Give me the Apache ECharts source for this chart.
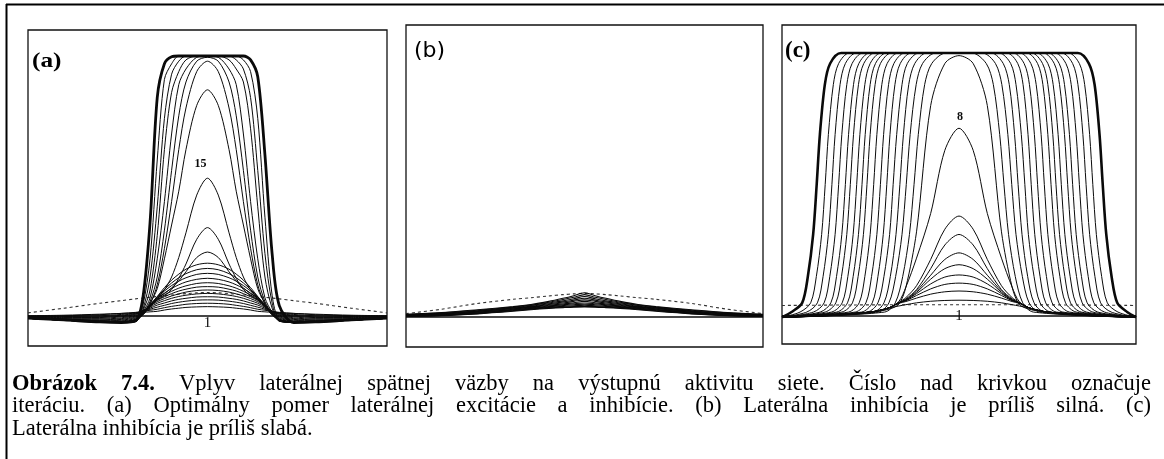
<!DOCTYPE html>
<html>
<head>
<meta charset="utf-8">
<script src="https://cdn.jsdelivr.net/npm/echarts@6/dist/echarts.min.js"></script>
<style>
html, body { margin: 0; padding: 0; background: #fff; }
#chart { width: 1164px; height: 459px; }
</style>
</head>
<body>
<div id="chart"></div>
<script>
// ---------------------------------------------------------------
// Data: network output activity per neuron position (-50..50),
// one row per iteration. Activity 100 = saturation.
// ---------------------------------------------------------------

// (a) optimal ratio of lateral excitation and inhibition
const xA = [-50,-40,-30,-24,-20,-18,-16,-14,-12,-10,-8,-6,-3,0,3,6,8,10,12,14,16,18,20,24,30,40,50];
const inputA = [1.2,3.0,4.9,5.9,6.6,6.9,7.2,7.5,7.8,8.1,8.4,8.6,8.9,9.0,8.9,8.6,8.4,8.1,7.8,7.5,7.2,6.9,6.6,5.9,4.9,3.0,1.2];
const curvesA = [
  [0.1,0.3,0.7,1.0,1.2,1.4,1.6,1.8,2.3,2.7,3.0,3.3,3.5,3.6,3.5,3.3,3.0,2.7,2.3,1.8,1.6,1.4,1.2,1.0,0.7,0.3,0.1],
  [0,0.1,0.5,1.0,1.4,1.8,2.2,2.6,3.2,3.7,4.1,4.5,4.8,4.9,4.8,4.5,4.1,3.7,3.2,2.6,2.2,1.8,1.4,1.0,0.5,0.1,0],
  [-0.2,-0.2,0.1,0.6,1.2,1.8,2.6,3.4,4.1,4.8,5.3,5.7,6.1,6.2,6.1,5.7,5.3,4.8,4.1,3.4,2.6,1.8,1.2,0.6,0.1,-0.2,-0.2],
  [-0.3,-0.4,-0.3,0.3,1.0,1.8,3.0,4.2,5.0,5.8,6.4,6.8,7.3,7.4,7.3,6.8,6.4,5.8,5.0,4.2,3.0,1.8,1.0,0.3,-0.3,-0.4,-0.3],
  [-0.4,-0.6,-0.6,0,0.8,1.8,3.4,4.9,5.9,6.8,7.5,8.0,8.5,8.7,8.5,8.0,7.5,6.8,5.9,4.9,3.4,1.8,0.8,0,-0.6,-0.6,-0.4],
  [-0.5,-0.8,-0.9,-0.3,0.6,1.8,3.8,5.5,6.7,7.7,8.5,9.2,9.8,10,9.8,9.2,8.5,7.7,6.7,5.5,3.8,1.8,0.6,-0.3,-0.9,-0.8,-0.5],
  [-0.6,-1.0,-1.2,-0.7,0.3,1.8,4.0,6.0,7.4,8.6,9.6,10.3,11.1,11.3,11.1,10.3,9.6,8.6,7.4,6.0,4.0,1.8,0.3,-0.7,-1.2,-1.0,-0.6],
  [-0.7,-1.2,-1.5,-1.0,0,1.6,4.2,6.4,8.1,9.5,10.7,11.6,12.5,12.8,12.5,11.6,10.7,9.5,8.1,6.4,4.2,1.6,0,-1.0,-1.5,-1.2,-0.7],
  [-0.8,-1.3,-1.7,-1.3,-0.3,1.4,4.3,6.8,8.8,10.6,12.0,13.1,14.1,14.5,14.1,13.1,12.0,10.6,8.8,6.8,4.3,1.4,-0.3,-1.3,-1.7,-1.3,-0.8],
  [-0.8,-1.4,-1.9,-1.6,-0.6,1.2,4.3,7.1,9.6,11.7,13.4,14.7,16.0,16.4,16.0,14.7,13.4,11.7,9.6,7.1,4.3,1.2,-0.6,-1.6,-1.9,-1.4,-0.8],
  [-0.9,-1.5,-2.1,-1.9,-0.9,1.0,4.3,7.3,10.2,12.7,14.7,16.3,17.8,18.3,17.8,16.3,14.7,12.7,10.2,7.3,4.3,1.0,-0.9,-1.9,-2.1,-1.5,-0.9],
  [-0.9,-1.6,-2.2,-2.1,-1.2,0.8,4.2,7.5,10.9,13.8,16.1,18.0,19.7,20.3,19.7,18.0,16.1,13.8,10.9,7.5,4.2,0.8,-1.2,-2.1,-2.2,-1.6,-0.9],
  [-0.9,-1.6,-2.3,-2.2,-1.4,0.6,4.0,6.8,8.6,10.8,13.5,17.0,22.5,24.6,22.5,17.0,13.5,10.8,8.6,6.8,4.0,0.6,-1.4,-2.2,-2.3,-1.6,-0.9],
  [-0.9,-1.6,-2.3,-2.3,-1.5,0.5,3.8,6.2,7.8,10.2,14.5,20.0,29.5,34,29.5,20.0,14.5,10.2,7.8,6.2,3.8,0.5,-1.5,-2.3,-2.3,-1.6,-0.9],
  [-0.9,-1.6,-2.3,-2.4,-1.6,0.4,3.5,6.5,10,15,22.5,32,46.5,53,46.5,32,22.5,15,10,6.5,3.5,0.4,-1.6,-2.4,-2.3,-1.6,-0.9],
  [-0.9,-1.6,-2.3,-2.4,-1.6,0.8,5,10.5,22,35,48,64,81,87,81,64,48,35,22,10.5,5,0.8,-1.6,-2.4,-2.3,-1.6,-0.9],
  [-0.9,-1.6,-2.3,-2.4,-1.7,1,4.5,12,26,44,64,80,94,98,94,80,64,44,26,12,4.5,1,-1.7,-2.4,-2.3,-1.6,-0.9],
  [-0.9,-1.6,-2.3,-2.4,-1.8,1.2,5.5,15,33,56,77,90,98,99.5,98,90,77,56,33,15,5.5,1.2,-1.8,-2.4,-2.3,-1.6,-0.9],
  [-0.9,-1.6,-2.3,-2.4,-1.9,1.5,7,22,44,70,89,95,99.5,100,99.5,95,89,70,44,22,7,1.5,-1.9,-2.4,-2.3,-1.6,-0.9],
  [-0.9,-1.6,-2.3,-2.4,-2.0,2,10,31,64,86,94,98.5,100,100,100,98.5,95,90,72,42,15,3,-2.0,-2.4,-2.3,-1.6,-0.9],
  [-0.9,-1.6,-2.3,-2.4,-2.1,2.5,15,42,76,93,98,100,100,100,100,100,98.5,95,84,56,24,5,-2.0,-2.4,-2.3,-1.6,-0.9],
  [-0.9,-1.6,-2.3,-2.5,-2.2,4,22,60,91,97,100,100,100,100,100,100,100,98.5,94,76,38,8,-1.5,-2.5,-2.3,-1.6,-0.9]
];
const finalA = [-0.8,-1.5,-2.3,-2.5,-1.8,7,36,84,97,99.7,100,100,100,100,100,100,100,100,98.5,92,62,24,4,-2.5,-2.3,-1.5,-0.8];

// (b) lateral inhibition too strong
const xB = [-50,-40,-30,-20,-15,-10,-6,-3,0,3,6,10,15,20,30,40,50];
const inputB = [1.3,3.0,5.2,6.8,7.4,8.1,8.6,8.9,9.1,8.9,8.6,8.1,7.4,6.8,5.2,3.0,1.3];
const curvesB = [
  [1.0,1.7,2.8,4.0,4.8,6.0,7.2,8.2,9.3,8.2,7.2,6.0,4.8,4.0,2.8,1.7,1.0],
  [0.9,1.6,2.6,3.8,4.6,5.7,6.7,7.6,8.6,7.6,6.7,5.7,4.6,3.8,2.6,1.6,0.9],
  [0.8,1.4,2.4,3.6,4.4,5.4,6.2,7.0,7.9,7.0,6.2,5.4,4.4,3.6,2.4,1.4,0.8],
  [0.7,1.3,2.2,3.4,4.1,5.1,5.8,6.5,7.2,6.5,5.8,5.1,4.1,3.4,2.2,1.3,0.7],
  [0.6,1.2,2.1,3.2,3.9,4.8,5.4,6.0,6.6,6.0,5.4,4.8,3.9,3.2,2.1,1.2,0.6],
  [0.5,1.1,1.9,3.0,3.7,4.5,5.0,5.5,6.0,5.5,5.0,4.5,3.7,3.0,1.9,1.1,0.5],
  [0.5,0.9,1.8,2.8,3.5,4.2,4.7,5.1,5.4,5.1,4.7,4.2,3.5,2.8,1.8,0.9,0.5],
  [0.4,0.8,1.6,2.7,3.3,4.0,4.4,4.7,4.9,4.7,4.4,4.0,3.3,2.7,1.6,0.8,0.4],
  [0.3,0.7,1.5,2.5,3.1,3.7,4.1,4.3,4.5,4.3,4.1,3.7,3.1,2.5,1.5,0.7,0.3],
  [0.3,0.6,1.3,2.4,3.0,3.5,3.8,4.0,4.1,4.0,3.8,3.5,3.0,2.4,1.3,0.6,0.3],
  [0.2,0.5,1.2,2.2,2.8,3.3,3.6,3.8,3.9,3.8,3.6,3.3,2.8,2.2,1.2,0.5,0.2]
];

// (c) lateral inhibition too weak
const xC = [-50,-35,-25,-20,-17,-15,-12,-8,-4,0,4,8,12,15,17,20,25,35,50];
const inputC = [[-50,4.0],[-30,4.2],[0,4.3],[30,4.2],[50,4.0]];
const curvesC = [
  [0,0.6,1.5,3,3.8,4.3,5,5.6,5.9,6,5.9,5.6,5,4.3,3.8,3,1.5,0.6,0],
  [0,0.6,1.5,3,4.8,5.5,6.8,8.3,9.2,9.5,9.2,8.3,6.8,5.5,4.8,3,1.5,0.6,0],
  [0,0.6,1.5,3,5,5.8,7.8,10.3,12,12.5,12,10.3,7.8,5.8,5,3,1.5,0.6,0],
  [0,0.6,1.5,3,5,6,8.5,12.2,14.8,15.6,14.8,12.2,8.5,6,5,3,1.5,0.6,0],
  [0,0.6,1.5,3,5,6,9,14,18,19.5,18,14,9,6,5,3,1.5,0.6,0],
  [0,0.6,1.5,3,5,6.2,9.5,15.5,21.5,24,21.5,15.5,9.5,6.2,5,3,1.5,0.6,0],
  [0,0.6,1.5,3,5,6.5,10,18,27,31,27,18,10,6.5,5,3,1.5,0.6,0],
  [-0.3,0.4,1.5,3,5.2,7,11.5,21.5,33,38,33,21.5,11.5,7,5.2,3,1.5,0.4,-0.3],
  [-0.5,0.3,1.5,3,5.5,11,22,39,63,71.4,63,39,22,11,5.5,3,1.5,0.3,-0.5],
  [-0.5,0.3,1.5,2.5,4.5,11,32,80,96,99,96,80,32,11,4.5,2.5,1.5,0.3,-0.5]
];
// widening plateau fronts, iterations after the peak saturates
const frontsC = [
  [[-50,-0.5],[-21,1.5],[-18,5],[-15.9,15],[-14,31],[-12.7,50],[-11.5,69],[-9.7,88],[-7.7,96],[-3.7,100],[3.7,100],[7.7,96],[9.7,88],[11.5,69],[12.7,50],[14,31],[15.9,15],[18,5],[21,1.5],[50,-0.5]],
  [[-50,-0.5],[-22.8,1.5],[-19.8,5],[-17.9,15],[-16.1,31],[-14.9,50],[-13.8,69],[-12.1,88],[-10.3,96],[-6.6,100],[6.6,100],[10.3,96],[12.1,88],[13.8,69],[14.9,50],[16.1,31],[17.9,15],[19.8,5],[22.8,1.5],[50,-0.5]],
  [[-50,-0.5],[-24.2,1.5],[-21.2,5],[-19.4,15],[-17.8,31],[-16.7,50],[-15.7,69],[-14.2,88],[-12.5,96],[-9.1,100],[9.1,100],[12.5,96],[14.2,88],[15.7,69],[16.7,50],[17.8,31],[19.4,15],[21.2,5],[24.2,1.5],[50,-0.5]],
  [[-50,-0.5],[-25.9,1.5],[-22.9,5],[-21.2,15],[-19.6,31],[-18.6,50],[-17.6,69],[-16.1,88],[-14.6,96],[-11.3,100],[11.3,100],[14.6,96],[16.1,88],[17.6,69],[18.6,50],[19.6,31],[21.2,15],[22.9,5],[25.9,1.5],[50,-0.5]],
  [[-50,-0.5],[-27.5,1.5],[-24.5,5],[-22.9,15],[-21.4,31],[-20.4,50],[-19.5,69],[-18.1,88],[-16.6,96],[-13.5,100],[13.5,100],[16.6,96],[18.1,88],[19.5,69],[20.4,50],[21.4,31],[22.9,15],[24.5,5],[27.5,1.5],[50,-0.5]],
  [[-50,-0.5],[-29.3,1.5],[-26.3,5],[-24.7,15],[-23.2,31],[-22.2,50],[-21.3,69],[-19.9,88],[-18.4,96],[-15.3,100],[15.3,100],[18.4,96],[19.9,88],[21.3,69],[22.2,50],[23.2,31],[24.7,15],[26.3,5],[29.3,1.5],[50,-0.5]],
  [[-50,-0.5],[-31.2,1.5],[-28.2,5],[-26.6,15],[-25.1,31],[-24.1,50],[-23.2,69],[-21.8,88],[-20.3,96],[-17.2,100],[17.2,100],[20.3,96],[21.8,88],[23.2,69],[24.1,50],[25.1,31],[26.6,15],[28.2,5],[31.2,1.5],[50,-0.5]],
  [[-50,-0.5],[-33.1,1.5],[-30.1,5],[-28.5,15],[-27,31],[-26,50],[-25.1,69],[-23.7,88],[-22.2,96],[-19.1,100],[19.1,100],[22.2,96],[23.7,88],[25.1,69],[26,50],[27,31],[28.5,15],[30.1,5],[33.1,1.5],[50,-0.5]],
  [[-50,-0.5],[-34.5,1.5],[-31.5,5],[-29.9,15],[-28.4,31],[-27.4,50],[-26.5,69],[-25.1,88],[-23.6,96],[-20.5,100],[20.5,100],[23.6,96],[25.1,88],[26.5,69],[27.4,50],[28.4,31],[29.9,15],[31.5,5],[34.5,1.5],[50,-0.5]],
  [[-50,-0.5],[-36,1.5],[-33,5],[-31.4,15],[-29.9,31],[-28.9,50],[-28,69],[-26.6,88],[-25.1,96],[-22,100],[22,100],[25.1,96],[26.6,88],[28,69],[28.9,50],[29.9,31],[31.4,15],[33,5],[36,1.5],[50,-0.5]],
  [[-50,-0.5],[-37.8,1.5],[-34.8,5],[-33.2,15],[-31.7,31],[-30.7,50],[-29.8,69],[-28.4,88],[-26.9,96],[-23.8,100],[23.8,100],[26.9,96],[28.4,88],[29.8,69],[30.7,50],[31.7,31],[33.2,15],[34.8,5],[37.8,1.5],[50,-0.5]],
  [[-50,-0.5],[-39.2,1.5],[-36.2,5],[-34.6,15],[-33.1,31],[-32.1,50],[-31.2,69],[-29.8,88],[-28.3,96],[-25.2,100],[25.2,100],[28.3,96],[29.8,88],[31.2,69],[32.1,50],[33.1,31],[34.6,15],[36.2,5],[39.2,1.5],[50,-0.5]],
  [[-50,-0.5],[-41.1,1.5],[-38.1,5],[-36.5,15],[-35,31],[-34,50],[-33.1,69],[-31.7,88],[-30.2,96],[-27.1,100],[27.1,100],[30.2,96],[31.7,88],[33.1,69],[34,50],[35,31],[36.5,15],[38.1,5],[41.1,1.5],[50,-0.5]],
  [[-50,-0.5],[-43,1.5],[-40,5],[-38.4,15],[-36.9,31],[-35.9,50],[-35,69],[-33.6,88],[-32.1,96],[-29,100],[29,100],[32.1,96],[33.6,88],[35,69],[35.9,50],[36.9,31],[38.4,15],[40,5],[43,1.5],[50,-0.5]],
  [[-50,-0.5],[-44.9,1.5],[-41.9,5],[-40.3,15],[-38.8,31],[-37.8,50],[-36.9,69],[-35.5,88],[-34,96],[-30.9,100],[30.9,100],[34,96],[35.5,88],[36.9,69],[37.8,50],[38.8,31],[40.3,15],[41.9,5],[44.9,1.5],[50,-0.5]]
];
const finalC = [[-50,-0.5],[-47.3,1.5],[-44.3,5],[-42.7,15],[-41.2,31],[-40.2,50],[-39.3,69],[-37.9,88],[-36.4,96],[-33.3,100],[33.6,100],[36.7,96],[38.3,88],[39.7,69],[40.6,50],[41.6,31],[43.1,15],[44.7,5],[47.5,1.5],[50,-0.5]];

// iteration numbers written next to curves: [panel, curve row, text]
const iterationTags = [
  ['a', 0, '1'], ['a', 14, '15'],
  ['c', 0, '1'], ['c', 8, '8']
];

const panelTitles = ['(a)', '(b)', '(c)'];

const captionLines = [
  'Obrázok 7.4. Vplyv laterálnej spätnej väzby na výstupnú aktivitu siete. Číslo nad krivkou označuje',
  'iteráciu. (a) Optimálny pomer laterálnej excitácie a inhibície. (b) Laterálna inhibícia je príliš silná. (c)',
  'Laterálna inhibícia je príliš slabá.'
];
const captionBoldWords = 2;

// ---------------------------------------------------------------
// Layout and drawing
// ---------------------------------------------------------------
const SERIF = "'Liberation Serif', 'Times New Roman', serif";
const INK = '#0a0a0a';

const grids = [
  { left: 28, top: 30, width: 359, height: 316 },
  { left: 406, top: 25, width: 357, height: 322 },
  { left: 782, top: 25, width: 354, height: 319 }
];
const yRange = [[-11.54, 110], [-11.54, 112.3], [-10.65, 110.65]];

const zip = (xs, ys) => xs.map((x, i) => [x, ys[i]]);

function curve(panel, points, width, extra) {
  return Object.assign({
    type: 'line',
    xAxisIndex: panel,
    yAxisIndex: panel,
    data: points,
    symbol: 'none',
    showSymbol: false,
    smooth: 0.3,
    silent: true,
    animation: false,
    lineStyle: { color: INK, width: width },
    emphasis: { disabled: true }
  }, extra || {});
}

function tagPoint(points, text, offset, bold, size) {
  const peak = points.reduce((m, p) => (p[1] > m[1] ? p : m), points[0]);
  return {
    symbol: 'circle',
    symbolSize: 0,
    silent: true,
    animation: false,
    data: [{ coord: peak }],
    label: {
      show: true,
      formatter: text,
      position: 'inside',
      offset: offset,
      color: INK,
      fontFamily: SERIF,
      fontWeight: bold ? 'bold' : 'normal',
      fontSize: size
    }
  };
}

const tagStyle = {
  '1': { offset: [0, 16], bold: false, size: 15 },
  '15': { offset: [-7, -14], bold: true, size: 12 },
  '8': { offset: [1, -11], bold: true, size: 12 }
};

function withTag(s, panelKey, row) {
  const tag = iterationTags.find(t => t[0] === panelKey && t[1] === row);
  if (tag) {
    const st = tagStyle[tag[2]];
    s.markPoint = tagPoint(s.data, tag[2], st.offset, st.bold, st.size);
  }
  return s;
}

const dashed = { lineStyle: { color: '#333', width: 1.1, type: [3, 3] } };
const series = [];
const baseline = [[-50, 0], [50, 0]];

// panel (a)
series.push(curve(0, zip(xA, inputA), 1.1, dashed));
series.push(curve(0, baseline, 1.4, { smooth: false }));
curvesA.forEach((row, i) => series.push(withTag(curve(0, zip(xA, row), 1), 'a', i)));
series.push(curve(0, zip(xA, finalA), 2.8));

// panel (b)
series.push(curve(1, zip(xB, inputB), 1.1, dashed));
series.push(curve(1, baseline, 1.5, { smooth: false }));
curvesB.forEach(row => series.push(curve(1, zip(xB, row), 1.1)));

// panel (c)
series.push(curve(2, inputC, 1.1, dashed));
series.push(curve(2, baseline, 1.4, { smooth: false }));
curvesC.forEach((row, i) => series.push(withTag(curve(2, zip(xC, row), 1), 'c', i)));
frontsC.forEach(pts => series.push(curve(2, pts, 1)));
series.push(curve(2, finalC, 2.6));

// caption, justified like a printed figure legend
function captionGraphics() {
  const size = 22.5;
  const left = 12, right = 1151;
  const ys = [384, 406.5, 429];
  const ctx = document.createElement('canvas').getContext('2d');
  const els = [];
  let wordIndex = 0;
  captionLines.forEach((line, li) => {
    const words = line.split(' ').map(w => {
      const bold = wordIndex++ < captionBoldWords;
      ctx.font = (bold ? 'bold ' : '') + size + 'px ' + SERIF;
      return { text: w, bold: bold, width: ctx.measureText(w).width };
    });
    const total = words.reduce((a, w) => a + w.width, 0);
    ctx.font = size + 'px ' + SERIF;
    const space = ctx.measureText(' ').width;
    const last = li === captionLines.length - 1;
    const gap = last ? space : (right - left - total) / (words.length - 1);
    let x = left;
    words.forEach(w => {
      els.push({
        type: 'text',
        x: x,
        y: ys[li],
        silent: true,
        style: {
          text: w.text,
          fill: '#000',
          fontFamily: SERIF,
          fontSize: size,
          fontWeight: w.bold ? 'bold' : 'normal',
          verticalAlign: 'middle',
          align: 'left'
        }
      });
      x += w.width + gap;
    });
  });
  return els;
}

const graphics = [
  // outer frame (left and top rules)
  { type: 'line', silent: true, shape: { x1: 6.5, y1: 4, x2: 6.5, y2: 459 }, style: { stroke: '#000', lineWidth: 2 } },
  { type: 'line', silent: true, shape: { x1: 6, y1: 4.5, x2: 1164, y2: 4.5 }, style: { stroke: '#000', lineWidth: 2 } },
  { type: 'text', x: 32, y: 61.5, scaleX: 1.15, silent: true, style: { text: panelTitles[0], fill: '#000', fontFamily: SERIF, fontWeight: 'bold', fontSize: 22, verticalAlign: 'middle' } },
  { type: 'text', x: 414, y: 51.5, silent: true, style: { text: panelTitles[1], fill: '#000', fontFamily: 'DejaVu Sans', fontSize: 22, verticalAlign: 'middle' } },
  { type: 'text', x: 785, y: 51, silent: true, style: { text: panelTitles[2], fill: '#000', fontFamily: SERIF, fontWeight: 'bold', fontSize: 23, verticalAlign: 'middle' } }
].concat(captionGraphics());

const chart = echarts.init(document.getElementById('chart'), null, { renderer: 'canvas' });
chart.setOption({
  animation: false,
  backgroundColor: '#fff',
  grid: grids.map(g => Object.assign({ show: true, borderColor: '#111', borderWidth: 1.3, backgroundColor: 'transparent', containLabel: false }, g)),
  xAxis: grids.map((g, i) => ({
    type: 'value', gridIndex: i, min: -50, max: 50,
    show: false, splitLine: { show: false }
  })),
  yAxis: grids.map((g, i) => ({
    type: 'value', gridIndex: i, min: yRange[i][0], max: yRange[i][1],
    show: false, splitLine: { show: false }
  })),
  series: series,
  graphic: graphics
});
</script>
</body>
</html>
